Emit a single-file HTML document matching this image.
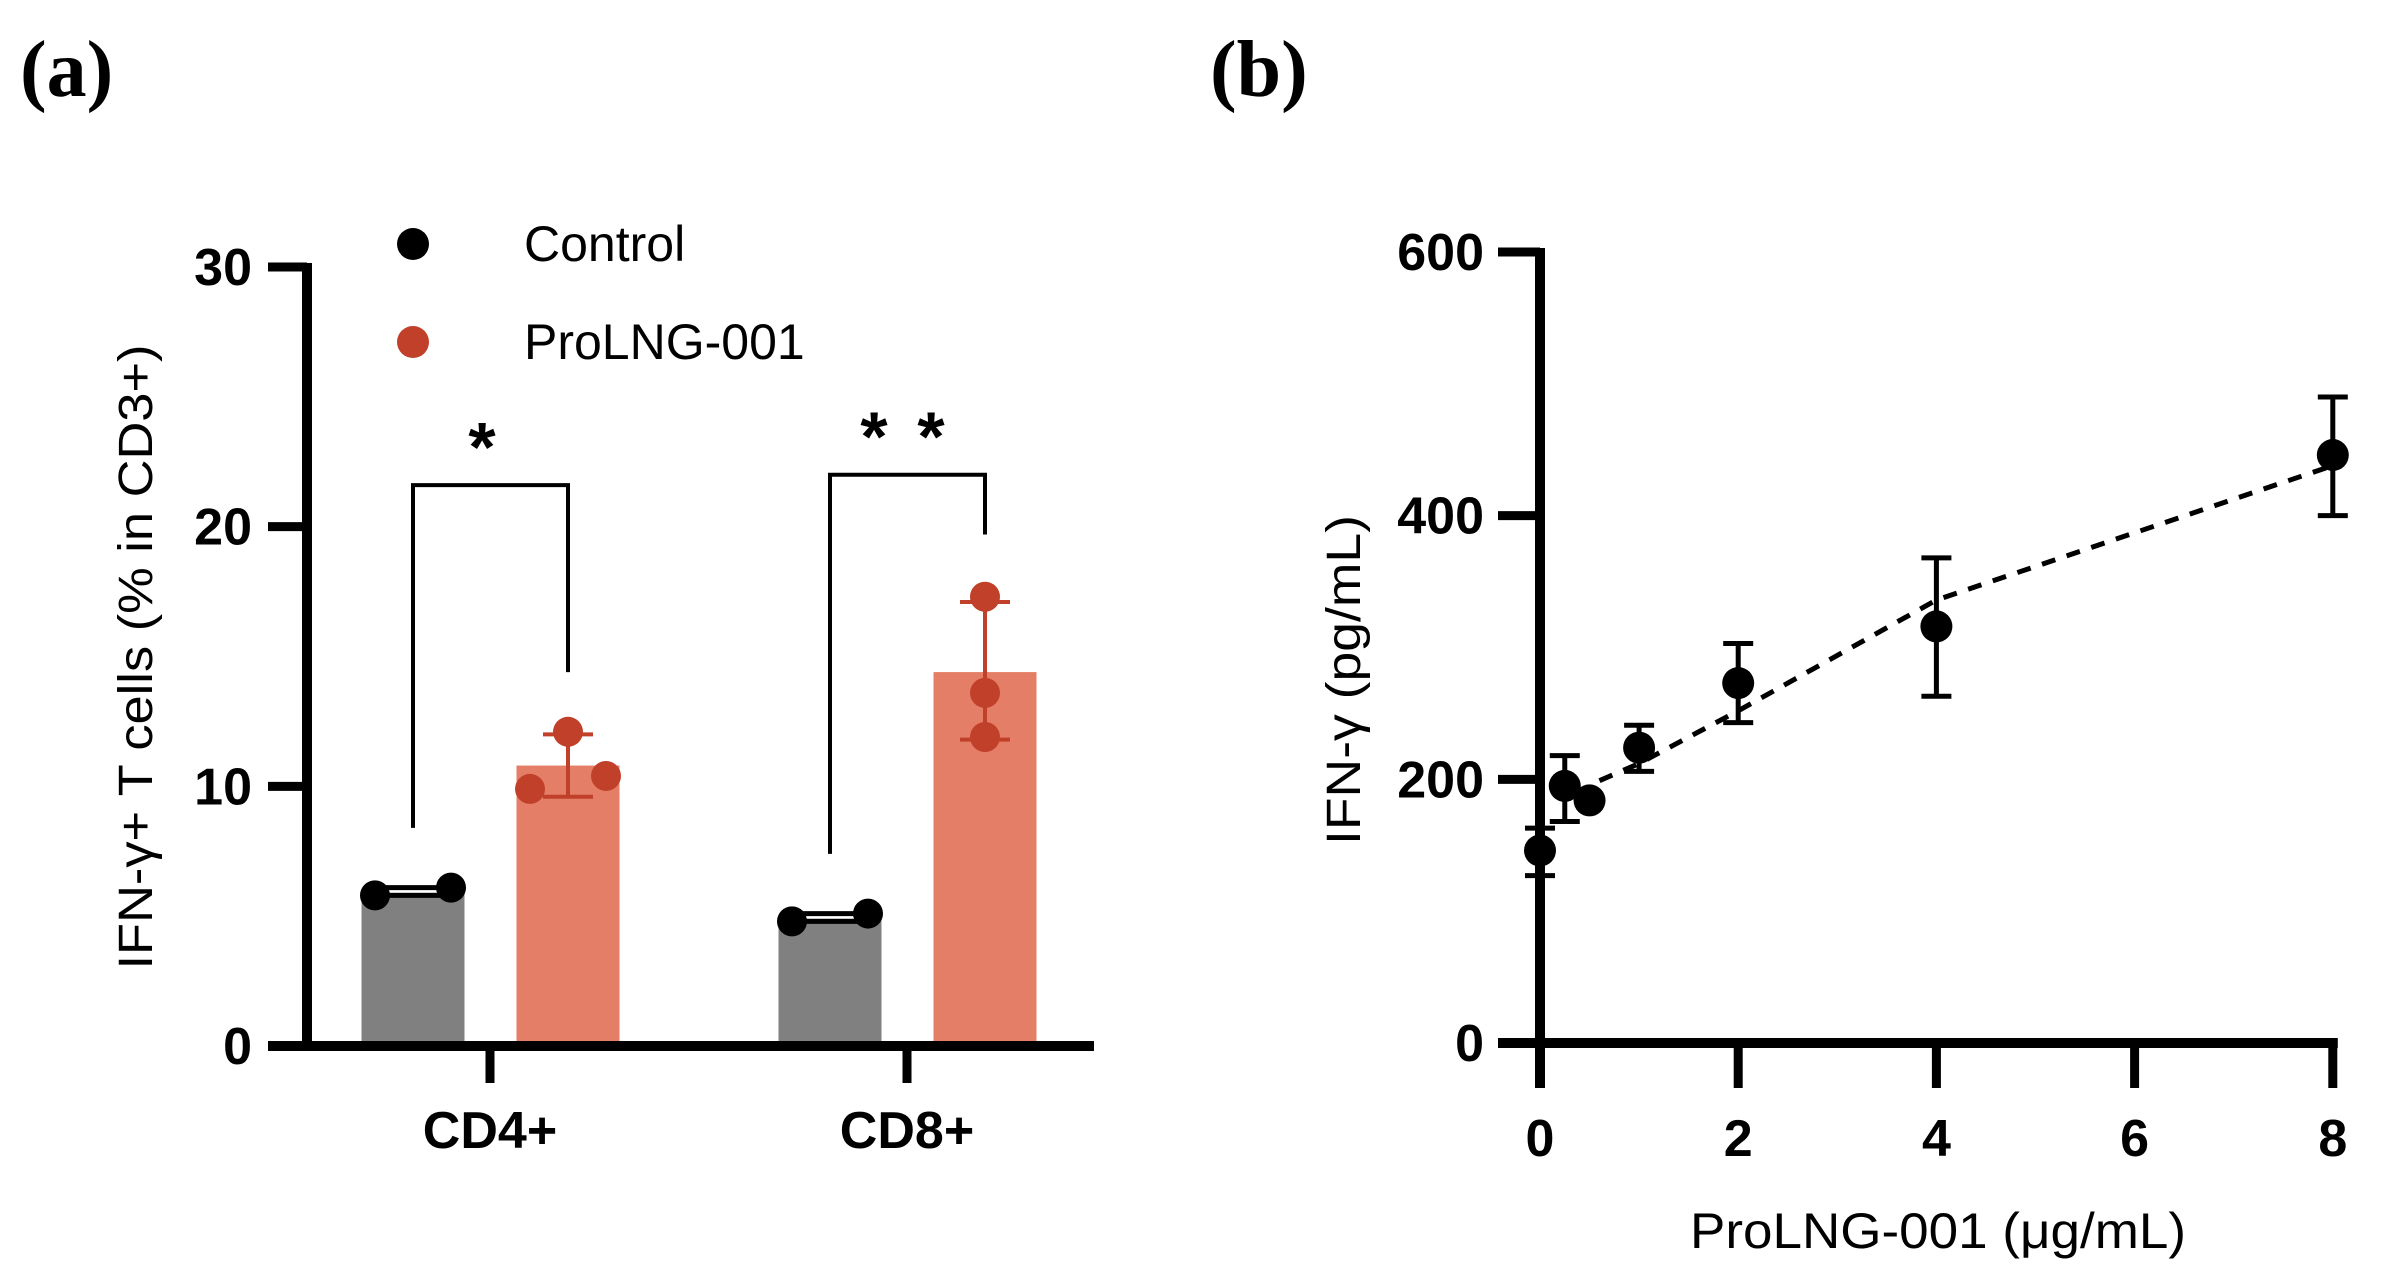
<!DOCTYPE html>
<html><head><meta charset="utf-8"><style>
html,body{margin:0;padding:0;background:#fff}
svg{display:block}
text{font-family:"Liberation Sans",sans-serif}
</style></head><body>
<svg id="fig" width="2383" height="1282" viewBox="0 0 2383 1282" xmlns="http://www.w3.org/2000/svg">
<text x="20" y="96" font-weight="bold" font-size="80" style="font-family:'Liberation Serif',serif">(a)</text>
<text x="1210" y="96" font-weight="bold" font-size="80" style="font-family:'Liberation Serif',serif">(b)</text>
<g id="pa"></g>
<g id="pb"></g>
</svg>
<script>
const NS="http://www.w3.org/2000/svg";
// ---- Panel A data ----
const aCategories=["CD4+","CD8+"];
const aControlMeans=[5.9,4.9];
const aProMeans=[10.8,14.4];
const aControlPoints=[[5.8,6.1],[4.8,5.1]];
const aProPoints=[[9.9,12.1,10.4],[11.9,13.6,17.3]];
const aProErrLow=[9.6,11.8];
const aProErrHigh=[12.0,17.1];
const aTicks=[0,10,20,30];
const aBracketLeft=[8.4,7.4];
const aBracketTop=[21.6,22.0];
const aBracketRight=[14.4,19.7];
const aStarCounts=[1,2];
// ---- Panel B data ----
const bDose=[0,0.25,0.5,1,2,4,8];
const bMean=[146,195,184,224,273,316,446];
const bErrLow=[127,168,184,206,243,263,400];
const bErrHigh=[163,218,184,241,303,368,490];
const bFitX=[0.6,1,2,4,8];
const bFitY=[199,212,252,336,438];
const bXTicks=[0,2,4,6,8];
const bYTicks=[0,200,400,600];

function mk(parent,tag,attrs){const e=document.createElementNS(NS,tag);for(const k in attrs)e.setAttribute(k,attrs[k]);parent.appendChild(e);return e;}

// Panel A
(function(){
const g=document.getElementById('pa');
const y0=1046,ytop=267,ax=307;
const ay=v=>y0-(v/30)*(y0-ytop);
const groupCenter=[490,907];
const barW=103, off=[-77,78];
for(let i=0;i<aCategories.length;i++){
  const cx=groupCenter[i];
  const c1=cx+off[0], c2=cx+off[1];
  let r=mk(g,'rect',{x:c1-barW/2,y:ay(aControlMeans[i]),width:barW,height:y0-ay(aControlMeans[i]),fill:'#808080'});
  
  r=mk(g,'rect',{x:c2-barW/2,y:ay(aProMeans[i]),width:barW,height:y0-ay(aProMeans[i]),fill:'#E57E66'});
  
  const cp=aControlPoints[i];
  mk(g,'line',{x1:c1-40,x2:c1+40,y1:ay(Math.min(...cp)),y2:ay(Math.min(...cp)),stroke:'#000','stroke-width':5});
  mk(g,'line',{x1:c1-40,x2:c1+40,y1:ay(Math.max(...cp)),y2:ay(Math.max(...cp)),stroke:'#000','stroke-width':5});
  const cxs=[c1-38,c1+38];
  cp.forEach((v,j)=>{const c=mk(g,'circle',{cx:cxs[j],cy:ay(v),r:15,fill:'#000'});
    });
  mk(g,'line',{x1:c2,x2:c2,y1:ay(aProErrLow[i]),y2:ay(aProErrHigh[i]),stroke:'#C0402A','stroke-width':4});
  mk(g,'line',{x1:c2-25,x2:c2+25,y1:ay(aProErrLow[i]),y2:ay(aProErrLow[i]),stroke:'#C0402A','stroke-width':4});
  mk(g,'line',{x1:c2-25,x2:c2+25,y1:ay(aProErrHigh[i]),y2:ay(aProErrHigh[i]),stroke:'#C0402A','stroke-width':4});
  const pxs=i==0?[c2-38,c2,c2+38]:[c2,c2,c2];
  aProPoints[i].forEach((v,j)=>{const c=mk(g,'circle',{cx:pxs[j],cy:ay(v),r:15,fill:'#C0402A'});
    });
  const br=mk(g,'polyline',{points:`${c1},${ay(aBracketLeft[i])} ${c1},${ay(aBracketTop[i])} ${c2},${ay(aBracketTop[i])} ${c2},${ay(aBracketRight[i])}`,fill:'none',stroke:'#000','stroke-width':4});
  
  const n=aStarCounts[i];
  for(let s=0;s<n;s++){
    const sx=n==1?cx-8:cx-33+s*57;
    const st=mk(g,'text',{x:sx,y:ay(aBracketTop[i])-14,'font-size':70,'font-weight':'bold','text-anchor':'middle'});
    st.textContent='*';
  }
  mk(g,'line',{x1:cx,x2:cx,y1:y0,y2:1083,stroke:'#000','stroke-width':9});
  const t=mk(g,'text',{x:cx,y:1148,'font-size':52,'font-weight':'bold','text-anchor':'middle'});
  t.textContent=aCategories[i];
}
let a=mk(g,'line',{x1:ax,x2:ax,y1:ytop-4,y2:y0+4,stroke:'#000','stroke-width':10});

a=mk(g,'line',{x1:268,x2:1094,y1:y0,y2:y0,stroke:'#000','stroke-width':10});

aTicks.forEach(v=>{mk(g,'line',{x1:268,x2:ax,y1:ay(v),y2:ay(v),stroke:'#000','stroke-width':9});
  const t=mk(g,'text',{x:252,y:ay(v)+18,'font-size':52,'font-weight':'bold','text-anchor':'end'});t.textContent=v;
  });
const yt=mk(g,'text',{x:0,y:0,'font-size':48,'text-anchor':'middle',transform:'translate(152,657) rotate(-90)',textLength:625,lengthAdjust:'spacingAndGlyphs'});
yt.textContent='IFN-γ+ T cells (% in CD3+)';
const lg=mk(g,'g',{});
mk(lg,'circle',{cx:413,cy:244,r:16,fill:'#000'});
mk(lg,'circle',{cx:413,cy:342,r:16,fill:'#C0402A'});
let l=mk(lg,'text',{x:524,y:261,'font-size':50});l.textContent='Control';
l=mk(lg,'text',{x:524,y:359,'font-size':50});l.textContent='ProLNG-001';
})();

// Panel B
(function(){
const g=document.getElementById('pb');
const x0=1540,xu=99.1,y0=1043,y600=252;
const bx=v=>x0+v*xu, by=v=>y0-(v/600)*(y0-y600);
let a=mk(g,'line',{x1:x0,x2:x0,y1:y600-4,y2:1088,stroke:'#000','stroke-width':10});

a=mk(g,'line',{x1:1498,x2:bx(8)+5,y1:y0,y2:y0,stroke:'#000','stroke-width':10});

bYTicks.forEach(v=>{mk(g,'line',{x1:1498,x2:x0,y1:by(v),y2:by(v),stroke:'#000','stroke-width':9});
  const t=mk(g,'text',{x:1484,y:by(v)+18,'font-size':52,'font-weight':'bold','text-anchor':'end'});t.textContent=v;
  });
bXTicks.forEach(v=>{mk(g,'line',{x1:bx(v),x2:bx(v),y1:y0,y2:1088,stroke:'#000','stroke-width':9});
  const t=mk(g,'text',{x:bx(v),y:1156,'font-size':52,'font-weight':'bold','text-anchor':'middle'});t.textContent=v;
  });
const fit=mk(g,'polyline',{points:bFitX.map((x,i)=>bx(x)+','+by(bFitY[i])).join(' '),fill:'none',stroke:'#000','stroke-width':5,'stroke-dasharray':'14 12'});

bDose.forEach((d,i)=>{
  const x=bx(d);
  if(bErrHigh[i]>bErrLow[i]){
    mk(g,'line',{x1:x,x2:x,y1:by(bErrLow[i]),y2:by(bErrHigh[i]),stroke:'#000','stroke-width':5});
    mk(g,'line',{x1:x-15,x2:x+15,y1:by(bErrLow[i]),y2:by(bErrLow[i]),stroke:'#000','stroke-width':5});
    mk(g,'line',{x1:x-15,x2:x+15,y1:by(bErrHigh[i]),y2:by(bErrHigh[i]),stroke:'#000','stroke-width':5});
  }
  const c=mk(g,'circle',{cx:x,cy:by(bMean[i]),r:16,fill:'#000'});
  
});
const yt=mk(g,'text',{x:0,y:0,'font-size':48,'text-anchor':'middle',transform:'translate(1360,680) rotate(-90)',textLength:330,lengthAdjust:'spacingAndGlyphs'});
yt.textContent='IFN-γ (pg/mL)';
const xt=mk(g,'text',{x:1938,y:1248,'font-size':50,'text-anchor':'middle',textLength:496,lengthAdjust:'spacingAndGlyphs'});
xt.textContent='ProLNG-001 (μg/mL)';
})();
</script>
</body></html>
